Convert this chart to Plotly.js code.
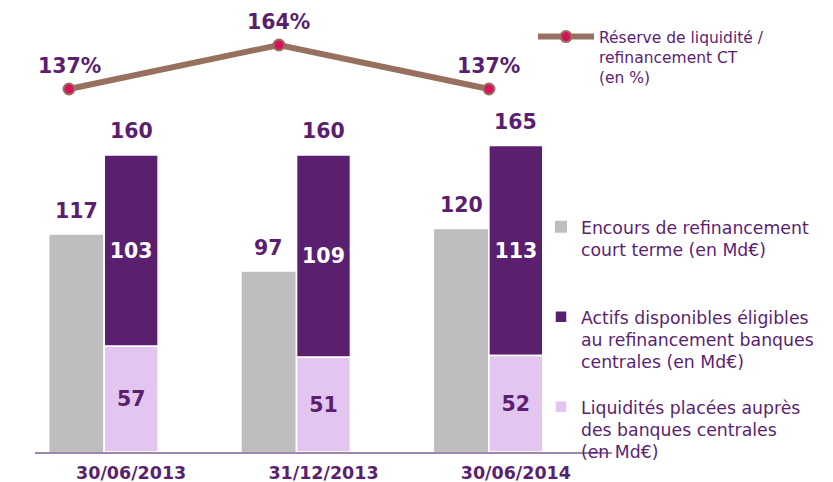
<!DOCTYPE html>
<html>
<head>
<meta charset="utf-8">
<script src="https://cdn.plot.ly/plotly-3.0.1.min.js"></script>
<style>html,body{margin:0;padding:0;background:#fff;}#chart{width:833px;height:482px;}</style>
</head>
<body>
<div id="chart"></div>
<script>
// ---- data ----
const dates = ["30/06/2013", "31/12/2013", "30/06/2014"];
const encours = [117, 97, 120];          // Encours de refinancement court terme (Md€)
const actifs = [103, 109, 113];          // Actifs disponibles éligibles (Md€)
const liquidites = [57, 51, 52];         // Liquidités placées auprès des banques centrales (Md€)
const reserve = [137, 164, 137];         // Réserve de liquidité / refinancement CT (%)

const legendNames = [
  "Réserve de liquidité /<br>refinancement CT<br>(en %)",
  "Encours de refinancement<br>court terme (en Md€)",
  "Actifs disponibles éligibles<br>au refinancement banques<br>centrales (en Md€)",
  "Liquidités placées auprès<br>des banques centrales<br>(en Md€)"
];

// ---- style ----
const PURPLE = "#5b1f70", GRAY = "#bebebe", LILAC = "#e2c6f0", BROWN = "#987060", PINK = "#d4145a";
const FONT = "DejaVu Sans, Verdana, sans-serif";
const BW = 0.28, GRAY_OFF = -0.425, PURP_OFF = -0.14;

const totals = liquidites.map((v, i) => v + actifs[i]);

const traces = [
  {
    type: "scatter", mode: "lines+markers", x: dates, y: reserve,
    xaxis: "x2", yaxis: "y2", name: legendNames[0], legend: "legend",
    line: {color: BROWN, width: 6},
    marker: {color: PINK, size: 11, line: {color: BROWN, width: 2}},
    hoverinfo: "skip", cliponaxis: false
  },
  {
    type: "bar", x: dates, y: encours, name: legendNames[1], legend: "legend2",
    width: BW, offset: GRAY_OFF, marker: {color: GRAY, line: {width: 0}},
    hoverinfo: "skip"
  },
  {
    type: "bar", x: dates, y: actifs, base: liquidites, name: legendNames[2], legend: "legend3",
    width: BW, offset: PURP_OFF, marker: {color: PURPLE, line: {color: "#ffffff", width: 1.5}},
    text: actifs.map(String), textposition: "inside", insidetextanchor: "middle",
    textangle: 0, constraintext: "none",
    insidetextfont: {family: FONT, size: 20.5, color: "#ffffff", weight: "bold"},
    hoverinfo: "skip"
  },
  {
    type: "bar", x: dates, y: liquidites, name: legendNames[3], legend: "legend4",
    width: BW, offset: PURP_OFF, marker: {color: LILAC, line: {color: "#ffffff", width: 1.5}},
    text: liquidites.map(String), textposition: "inside", insidetextanchor: "middle",
    textangle: 0, constraintext: "none",
    insidetextfont: {family: FONT, size: 20.5, color: PURPLE, weight: "bold"},
    hoverinfo: "skip"
  }
];

const labelFont = {family: FONT, size: 20.5, color: PURPLE, weight: "bold"};
const annotations = [];
encours.forEach((v, i) => annotations.push({
  x: i + GRAY_OFF + BW / 2, y: v, xref: "x", yref: "y", text: String(v),
  showarrow: false, yanchor: "middle", yshift: 24, font: labelFont
}));
totals.forEach((v, i) => annotations.push({
  x: i + PURP_OFF + BW / 2, y: v, xref: "x", yref: "y", text: String(v),
  showarrow: false, yanchor: "middle", yshift: 24, font: labelFont
}));
reserve.forEach((v, i) => annotations.push({
  x: i, y: v, xref: "x2", yref: "y2", text: v + "%",
  showarrow: false, yanchor: "middle", yshift: 23, font: labelFont
}));

const legFont = {family: FONT, size: 15.5, color: PURPLE};
const legFont2 = {family: FONT, size: 17.3, color: PURPLE};
const lx2 = (541 - 35) / 577;
const layout = {
  width: 833, height: 482,
  margin: {l: 35, r: 221, t: 0, b: 30},
  paper_bgcolor: "#ffffff", plot_bgcolor: "#ffffff",
  barmode: "overlay",
  showlegend: true,
  xaxis: {
    type: "category", range: [-0.5, 2.5], showgrid: false, zeroline: false,
    showline: true, linecolor: "#9e88aa", linewidth: 2, ticks: "", ticklabelstandoff: 4,
    tickfont: {family: FONT, size: 17.5, color: PURPLE, weight: "bold"}
  },
  xaxis2: {
    type: "category", overlaying: "x", range: [-0.162, 2.586], visible: false
  },
  yaxis: {range: [0, 243.4], visible: false, showgrid: false, zeroline: false},
  yaxis2: {range: [-85.75, 191.6], overlaying: "y", visible: false, showgrid: false, zeroline: false},
  legend:  {x: (533 - 35) / 577, y: (452 - 20) / 452, xanchor: "left", yanchor: "top", valign: "top",
            itemwidth: 56, font: legFont, bgcolor: "rgba(0,0,0,0)", tracegroupgap: 0},
  legend2: {x: lx2, y: (452 - 209) / 452, xanchor: "left", yanchor: "top", valign: "top",
            font: legFont2, bgcolor: "rgba(0,0,0,0)"},
  legend3: {x: lx2, y: (452 - 299) / 452, xanchor: "left", yanchor: "top", valign: "top",
            font: legFont2, bgcolor: "rgba(0,0,0,0)"},
  legend4: {x: lx2, y: (452 - 389) / 452, xanchor: "left", yanchor: "top", valign: "top",
            font: legFont2, bgcolor: "rgba(0,0,0,0)"},
  annotations: annotations
};

Plotly.newPlot("chart", traces, layout, {displayModeBar: false, staticPlot: true});
</script>
</body>
</html>
